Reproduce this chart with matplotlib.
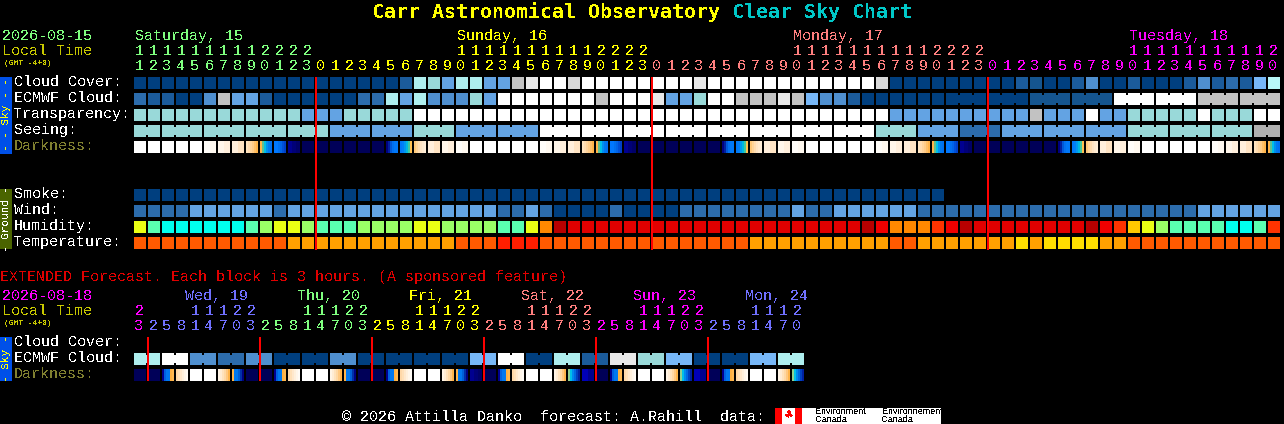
import matplotlib
matplotlib.use('Agg')
from matplotlib import pyplot as plt

plt.rcParams['text.antialiased'] = False
plt.rcParams['font.family'] = 'Liberation Mono'

# cloud style scale
pal = {'a': '#003f7f', 'b': '#15558f', 'B': '#1b5b9b', 'c': '#2c6cac', 'd': '#4f8fcf', 'e': '#63a3e3',
       'f': '#77b7f7', 'g': '#99d9d9', 'h': '#aeeeee', 'H': '#b8f8f8', 'i': '#c2c2c2', 'I': '#b0b0b0',
       'k': '#d8d8d8', 'j': '#e8e8e8', 'w': '#ffffff',
       # humidity
       'Y': '#eaff14', 'G': '#9aff66', 'S': '#5affb0', 'C': '#00ffee', 'O': '#ff8800', 'X': '#b80000',
       'R': '#e00000', 'Q': '#f00000', 'P': '#ff3300', 'L': '#ffc800',
       # temperature
       'm': '#ff5a00', 'n': '#ffa000', 'r': '#ff1e00', 'y': '#ffdd00'}

cloud_cover = 'a' * 19 + 'B' + 'hgehheeij' + 'ww' + 'k' + 'w' * 8 + 'j' + 'w' * 12 + 'k' + 'a' * 9 + 'BbaaBdaaBaaaBdBcBfH'
ecmwf_cloud = 'cBBaadieeB' + 'a' * 6 + 'ccheh' + 'dddge' + 'w' * 7 + 'iwwwjeegwwiiijifddB' + 'a' * 12 + 'b' * 6 + 'w' * 6 + 'i' * 6
transparency = 'g' * 12 + 'eee' + 'g' * 5 + 'w' * 34 + 'e' * 10 + 'ieee' + 'weegggggwgggww'
seeing = 'g' * 14 + 'e' * 6 + 'g' * 3 + 'e' * 6 + 'w' * 24 + 'g' * 3 + 'e' * 3 + 'c' * 3 + 'e' * 9 + 'g' * 9 + 'II'
darkness = ['W', 'W', 'W', 'W', 'W', 'C1', 'C2', 'C3', 'D1', 'D2', 'D3', 'N0', 'N', 'N', 'N', 'N', 'N', 'N', 'U1', 'U2',
            'U3', 'C3', 'C2', 'C1', 'W', 'W', 'W', 'W', 'W', 'C1', 'C2', 'C3', 'D1', 'D2', 'D3', 'N0', 'N', 'N', 'N', 'N',
            'N', 'N', 'U1', 'U2', 'U3', 'C3', 'C2', 'C1', 'W', 'W', 'W', 'W', 'W', 'C1', 'C2', 'C3', 'D1', 'D2', 'D3', 'N0',
            'N', 'N', 'N', 'N', 'N', 'N', 'U1', 'U2', 'U3', 'C3', 'C2', 'C1', 'W', 'W', 'W', 'W', 'W', 'C1', 'C2', 'C3',
            'D1', 'D2']
smoke = 'a' * 58
wind = 'cccceeeeeeceeeeeeeeeeeeeeeccecaaaacaaaacccccccceccee' + 'eeee' + 'c' * 20 + 'e' * 6
humidity = 'YSCCCCCCSGYYGSSSGGGGYYGGGGSSYOX' + 'R' * 21 + 'XQOOOPQXR' + 'R' * 7 + 'XQPLYGSSSSCCSP'
temperature = 'm' * 11 + 'n' * 12 + 'mmmrrr' + 'm' * 15 + 'n' * 10 + 'mm' + 'n' * 7 + 'ynyyyynn' + 'm' * 11

ext_ecmwf = 'hwdcdaadaaaafwahBjgfaafh'
ext_darkness = ['N', 'N', 'E1', 'E2', 'W', 'W', 'D4', 'D5', 'N', 'N', 'E1', 'E2', 'W', 'W', 'D4', 'D5',
                'N', 'N', 'E1', 'E2', 'W', 'W', 'D4', 'D5', 'N0', 'N', 'E1', 'E2', 'W', 'W', 'D4', 'D6',
                'N1', 'N', 'E1', 'E2', 'W', 'W', 'D4', 'D6', 'N1', 'N', 'E1', 'E2', 'W', 'W', 'D4', 'D6']

# gradient stops of each darkness block
dark_stops = {'W': ['#ffffff'], 'C1': ['#fffdf9', '#fff9f0'], 'C2': ['#fff6ea', '#ffefdc'], 'C3': ['#ffefdc', '#ffe4c4'],
              'D1': ['#ffe4c0', '#ffdcb0', '#ffd49c', '#ffcc88', '#ffc068', '#ffb44a'],
              'D2': ['#ffb44a', '#60c090', '#00c0e8', '#0090f0', '#0078f0', '#0070f0'],
              'D3': ['#0078ff', '#0078ff', '#0070f0', '#0064e8', '#0050d8', '#0040c8'],
              'N0': ['#000090', '#000078', '#000068'], 'N': ['#000058'], 'N1': ['#0000b8', '#000090'],
              'U1': ['#000080', '#0020a0', '#0058d8', '#0070f0', '#0078f8', '#0078f8'],
              'U2': ['#0078f8', '#0080f8', '#0098f0', '#00b8e0', '#40c8a0', '#ffc050'],
              'U3': ['#ffc878', '#ffd498', '#ffdcb0', '#ffe4c4', '#ffeacf', '#ffeed8'],
              'E1': ['#000090', '#0060e0', '#0078f0', '#0078f0', '#ffb040', '#ffb850'],
              'E2': ['#ffd8a8', '#ffe0b8', '#ffe8cc', '#fff0dc', '#fff6ea', '#fffbf5'],
              'D4': ['#fff4e6', '#ffecd4', '#ffe2bc', '#ffd8a4', '#ffc880', '#ffb44a'],
              'D5': ['#ffb44a', '#0078f0', '#0078f0', '#0060d8', '#0030a8', '#000080'],
              'D6': ['#90d090', '#00c0e8', '#0088f0', '#0068e0', '#0040c0', '#0020a0']}

green, yellow, salmon, magenta, blue = '#7fff7f', '#ffff00', '#ff7f7f', '#ff00ff', '#7070ff'
olive = '#c8c800'
dim = '#808030'

day_names = ['Saturday, 15', 'Sunday, 16', 'Monday, 17', 'Tuesday, 18']
day_cols = [0, 13, 37, 61]
name_cols = [0, 23, 47, 71]
day_hours = [list(range(11, 24)), list(range(24)), list(range(24)), list(range(21))]
day_colors = [green, yellow, salmon, magenta]

ext_days = ['Wed, 19', 'Thu, 20', 'Fri, 21', 'Sat, 22', 'Sun, 23', 'Mon, 24']
ext_hours = [23] + [2, 5, 8, 11, 14, 17, 20, 23] * 5 + [2, 5, 8, 11, 14, 17, 20]
ext_colors = [magenta] + [c for c in [blue, green, yellow, salmon, magenta] for _ in range(8)] + [blue] * 7

fig = plt.figure(figsize=(12.84, 4.24), dpi=100, facecolor='black')
ax = fig.add_axes([0, 0, 1, 1])
ax.set_facecolor('black')
ax.set_xlim(0, 1284)
ax.set_ylim(424, 0)
ax.axis('off')

X0, PITCH, BW, BH = 134, 14, 12, 12


def font(pixels):
    return pixels * 72 / 100


def label(x, y, s, color='white', size=15, **kw):
    ax.text(x, y, s, color=color, fontsize=font(size), va='baseline', **kw)


def block(x, y, w, h, color):
    ax.bar(x, h, width=w, bottom=y, align='edge', color=color, linewidth=0, antialiased=False)


def draw_row(y, codes, joined=None):
    for i, c in enumerate(codes):
        block(X0 + PITCH * i, y, BW, BH, pal[c])
        if joined is not None and i + 1 < len(codes) and joined(i) and codes[i + 1] == c:
            block(X0 + PITCH * i + BW, y + 2, PITCH - BW, BH - 4, pal[c])


def draw_dark(y, names):
    for i, name in enumerate(names):
        stops = dark_stops[name]
        w = BW / len(stops)
        for k, s in enumerate(stops):
            block(X0 + PITCH * i + k * w, y, w, BH, s)


# title
label(372, 18, 'Carr Astronomical Observatory', yellow, 20, fontweight='bold', family='DejaVu Sans Mono')
label(732, 18, 'Clear Sky Chart', '#00c8c8', 20, fontweight='bold', family='DejaVu Sans Mono')

# header
label(2, 40, '2026-08-15', green)
label(2, 55, 'Local Time', olive)
label(4, 65, '(GMT -4+0)', olive, 8)
for name, ncol, col, hours, color in zip(day_names, name_cols, day_cols, day_hours, day_colors):
    label(X0 + PITCH * ncol + 1, 40, name, color)
    for k, h in enumerate(hours):
        x = X0 + PITCH * (col + k) + 5
        if h >= 10:
            label(x, 55, str(h // 10), color, ha='center')
        label(x, 70, str(h % 10), color, ha='center')

# sky rows
draw_row(77, cloud_cover)
draw_row(93, ecmwf_cloud, lambda i: i >= 58 and (i - 58) % 3 != 2)
draw_row(109, transparency)
draw_row(125, seeing, lambda i: i == 0 or (i >= 2 and (i - 2) % 3 != 2) or i == 80)
draw_dark(141, darkness)

# ground rows
draw_row(189, smoke)
draw_row(205, wind)
draw_row(221, humidity)
draw_row(237, temperature)

for y, s, c in [(86, 'Cloud Cover:', 'white'), (102, 'ECMWF Cloud:', 'white'), (118, 'Transparency:', 'white'),
                (134, 'Seeing:', 'white'), (150, 'Darkness:', dim), (198, 'Smoke:', 'white'), (214, 'Wind:', 'white'),
                (230, 'Humidity:', 'white'), (246, 'Temperature:', 'white')]:
    label(14, y, s, c)

# side bars
block(0, 77, 12, 77, '#0050e8')
block(0, 189, 12, 60, '#4a6400')
ax.text(6, 115, '- - Sky - -', color=yellow, fontsize=font(11), rotation=90, ha='center', va='center')
ax.text(6, 219, '- Ground -', color='white', fontsize=font(11), rotation=90, ha='center', va='center')

for col in [13, 37, 61]:
    block(X0 + PITCH * col - 1, 77, 2, 173, '#ff0000')

# extended forecast
label(0, 281, 'EXTENDED Forecast. Each block is 3 hours. (A sponsored feature)', '#e00000')
label(2, 300, '2026-08-18', magenta)
label(2, 315, 'Local Time', olive)
label(4, 325, '(GMT -4+0)', olive, 8)
for i, (name, color) in enumerate(zip(ext_days, [blue, green, yellow, salmon, magenta, blue])):
    label(185 + 112 * i, 300, name, color)
for k, (h, color) in enumerate(zip(ext_hours, ext_colors)):
    x = X0 + PITCH * k + 5
    if h >= 10:
        label(x, 315, str(h // 10), color, ha='center')
    label(x, 330, str(h % 10), color, ha='center')

draw_row(353, ''.join(c * 2 for c in ext_ecmwf), lambda i: i % 2 == 0)
draw_dark(369, ext_darkness)
label(14, 346, 'Cloud Cover:')
label(14, 362, 'ECMWF Cloud:')
label(14, 378, 'Darkness:', dim)
block(0, 337, 12, 44, '#0050e8')
ax.text(6, 359, '- Sky -', color=yellow, fontsize=font(11), rotation=90, ha='center', va='center')
for col in range(1, 42, 8):
    block(X0 + PITCH * col - 1, 337, 2, 44, '#ff0000')

# credits
label(342, 421, '\u00a9 2026 Attilla Danko  forecast: A.Rahill  data:')
block(775, 408, 166, 16, 'white')
block(775, 408, 7, 16, '#ff0000')
block(795, 408, 7, 16, '#ff0000')
ax.text(788.5, 416, '\u2663', color='#ff0000', fontsize=font(11), ha='center', va='center', family='DejaVu Sans')
for x, s in [(815, 'Environment'), (882, 'Environnement')]:
    ax.text(x, 414, s, color='black', fontsize=font(9), family='Liberation Sans', va='baseline')
    ax.text(x, 422, 'Canada', color='black', fontsize=font(9), family='Liberation Sans', va='baseline')

ax.set_xlim(0, 1284)
ax.set_ylim(424, 0)
fig.savefig('out.png', dpi=100, facecolor='black')
